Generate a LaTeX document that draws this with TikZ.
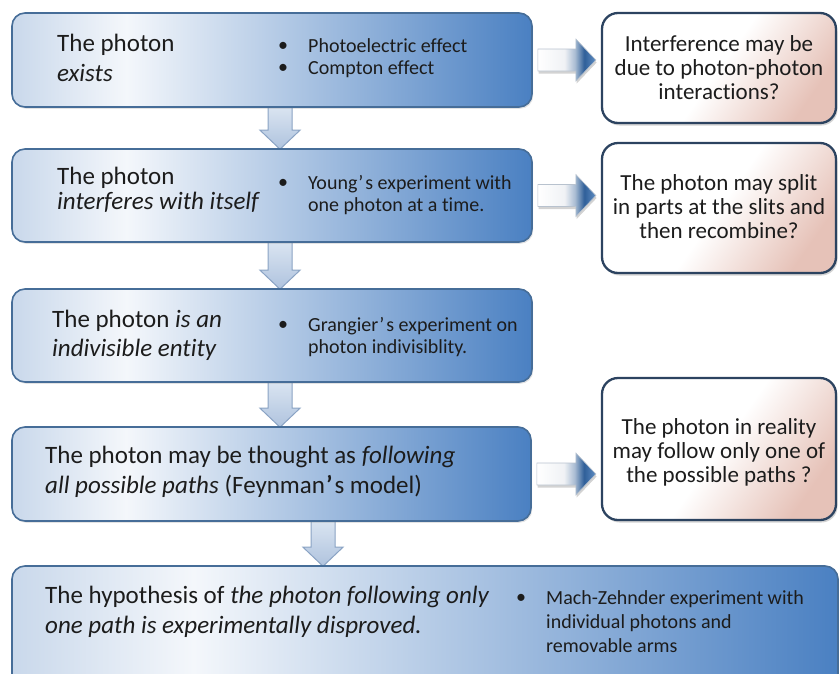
\documentclass[tikz,border=0pt]{standalone}
\usepackage{fontspec}
\setmainfont{Carlito}[Ligatures=NoCommon]
\usetikzlibrary{calc,shadows,backgrounds}
\definecolor{mbA}{HTML}{C9D8EB}
\definecolor{mbB}{HTML}{F4F7FB}
\definecolor{mbC}{HTML}{4A80C2}
\definecolor{mbBorder}{HTML}{466D98}
\definecolor{rbP}{HTML}{E6C2B8}
\definecolor{rbBorder}{HTML}{2C4360}
\definecolor{raA}{HTML}{F0F2F5}
\definecolor{raB}{HTML}{A9BCD3}
\definecolor{raC}{HTML}{2F5F99}
\definecolor{raD}{HTML}{5F8DC3}
\definecolor{raEdge}{HTML}{B8C2CE}
\definecolor{daA}{HTML}{DCE6F2}
\definecolor{daB}{HTML}{AFC3DE}
\definecolor{daEdge}{HTML}{8AA3C4}
\definecolor{txt}{HTML}{1C1C1C}
\pgfdeclarehorizontalshading{mainboxsh}{100bp}{color(0bp)=(mbA); color(25bp)=(mbA); color(36bp)=(mbB); color(75bp)=(mbC); color(100bp)=(mbC)}
\pgfdeclarehorizontalshading{rboxsh}{100bp}{color(0bp)=(white); color(25bp)=(white); color(50bp)=(white); color(75bp)=(rbP); color(100bp)=(rbP)}
\pgfdeclarehorizontalshading{rarrsh}{100bp}{color(0bp)=(white); color(25bp)=(white); color(48bp)=(raA); color(57bp)=(raB); color(65bp)=(raC); color(75bp)=(raD); color(100bp)=(raD)}
\pgfdeclareverticalshading{dnarrsh}{100bp}{color(0bp)=(daB); color(25bp)=(daB); color(75bp)=(daA); color(100bp)=(daA)}
\tikzset{
  mainbox/.style={draw=mbBorder, line width=1.6pt, rounded corners=13pt, shading=mainboxsh, inner sep=0pt,
    drop shadow={shadow xshift=1.2pt, shadow yshift=-1.8pt, opacity=.22}},
  sidebox/.style={draw=rbBorder, line width=2.3pt, rounded corners=16pt, shading=rboxsh, shading angle=-35, inner sep=0pt,
    drop shadow={shadow xshift=1.5pt, shadow yshift=-2.5pt, opacity=.35}},
  headtext/.style={font=\fontsize{25}{29}\selectfont, align=left, inner sep=0pt, text=txt, anchor=west},
  bultext/.style={font=\fontsize{20}{22.5}\selectfont, align=left, inner sep=0pt, text=txt, anchor=west},
  bulmark/.style={font=\fontsize{20}{22.5}\selectfont, inner sep=0pt, text=txt},
  sidetext/.style={font=\fontsize{23}{24}\selectfont, align=center, inner sep=0pt, text=txt},
  rarrow/.style={shading=rarrsh, draw=raEdge, line width=0.6pt,
    drop shadow={shadow xshift=0.8pt, shadow yshift=-2.5pt, opacity=.35}},
  dnarrow/.style={shading=dnarrsh, draw=daEdge, line width=1pt}
}
\newcommand\rightblock[2]{%
  \path[rarrow] ($(#1.east)+(5,-11)$) -- ($(#2.west |- #1.east)+(-25,-11)$)
    -- ($(#2.west |- #1.east)+(-25,-21)$) -- ($(#2.west |- #1.east)+(-5,0)$)
    -- ($(#2.west |- #1.east)+(-25,21)$) -- ($(#2.west |- #1.east)+(-25,11)$)
    -- ($(#1.east)+(5,11)$) -- cycle;}
\newcommand\downblock[3]{%
  \path[dnarrow] ($(#1.south -| #3)+(-12,-3)$) -- ($(#1.south -| #3)+(12,-3)$)
    -- ($(#2.north -| #3)+(12,-18)$) -- ($(#2.north -| #3)+(20,-18)$)
    -- ($(#2.north -| #3)+(0,1)$) -- ($(#2.north -| #3)+(-20,-18)$)
    -- ($(#2.north -| #3)+(-12,-18)$) -- cycle;}
\begin{document}
\begin{tikzpicture}[x=1pt,y=-1pt]
\useasboundingbox (0,0) rectangle (839,673);
% main boxes
\node[mainbox, minimum width=520pt, minimum height=94pt] (b1) at (272,60) {};
\node[mainbox, minimum width=520pt, minimum height=93pt] (b2) at (272,195.5) {};
\node[mainbox, minimum width=520pt, minimum height=93pt] (b3) at (272,335.5) {};
\node[mainbox, minimum width=519pt, minimum height=94pt] (b4) at (271.5,474) {};
\node[mainbox, minimum width=826pt, minimum height=130pt] (b5) at (425,631) {};
% side boxes
\node[sidebox, minimum width=234pt, minimum height=110pt] (r1) at (719,68) {};
\node[sidebox, minimum width=234pt, minimum height=130pt] (r2) at (719,208) {};
\node[sidebox, minimum width=234pt, minimum height=142pt] (r3) at (719,449) {};
% texts box 1
\node[headtext, font=\fontsize{25}{30}\selectfont] (t1) at (57,58) {The photon\\\textit{exists}};
\node[bulmark] (m1a) at (283,47) {•};
\node[bulmark] (m1b) at (283,69) {•};
\node[bultext] (u1) at (308,58) {Photoelectric effect\\Compton effect};
% box 2
\node[headtext, font=\fontsize{25}{25.5}\selectfont] (t2) at (57,190) {The photon\\\textit{interferes with itself}};
\node[bulmark] (m2) at (283,184) {•};
\node[bultext] (u2) at (308,195) {Young\kern1pt’\kern2pt s experiment with\\one photon at a time.};
% box 3
\node[headtext] (t3) at (52,335) {The photon \textit{is an}\\\textit{indivisible entity}};
\node[bulmark] (m3) at (283,326) {•};
\node[bultext] (u3) at (308,337) {Grangier\kern1pt’\kern2pt s experiment on\\photon indivisiblity.};
% box 4
\node[headtext, font=\fontsize{25}{30}\selectfont] (t4) at (45,472) {The photon may be thought as \textit{following}\\\textit{all possible paths} (Feynman\kern1pt\textbf{’}\kern2pt s model)};
% box 5
\node[headtext, font=\fontsize{25}{30}\selectfont] (t5) at (45,612) {The hypothesis of \textit{the photon following only}\\\textit{one path is experimentally disproved.}};
\node[bulmark] (m5) at (521,599) {•};
\node[bultext, font=\fontsize{20}{24}\selectfont] (u5) at (546,622) {Mach-Zehnder experiment with\\individual photons and\\removable arms};
% side texts
\node[sidetext] (s1) at (719,68) {Interference may be\\due to photon-photon\\interactions?};
\node[sidetext] (s2) at (719,207) {The photon may split\\in parts at the slits and\\then recombine?};
\node[sidetext] (s3) at (719,452) {The photon in reality\\may follow only one of\\the possible paths ?};
% arrow axes
\coordinate (ax1) at (280,0);
\coordinate (ax4) at (323,0);
\begin{scope}[on background layer]
\downblock{b1}{b2}{ax1}
\downblock{b2}{b3}{ax1}
\downblock{b3}{b4}{ax1}
\downblock{b4}{b5}{ax4}
\end{scope}
\rightblock{b1}{r1}
\rightblock{b2}{r2}
\rightblock{b4}{r3}
\end{tikzpicture}
\end{document}
